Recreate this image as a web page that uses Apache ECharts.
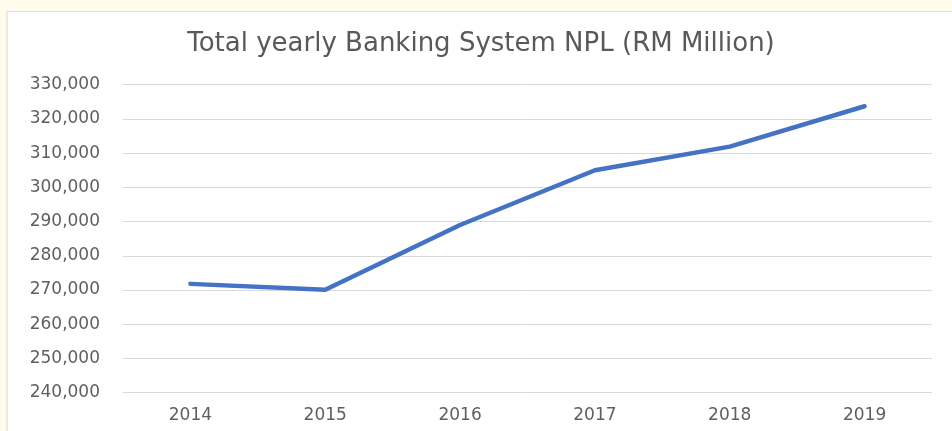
<!DOCTYPE html>
<html>
<head>
<meta charset="utf-8">
<script src="https://cdn.jsdelivr.net/npm/echarts@6/dist/echarts.min.js"></script>
<style>
html,body{margin:0;padding:0;width:952px;height:431px;overflow:hidden;background:#FFFCEE;}
#chart{position:absolute;left:6px;top:11px;width:946px;height:420px;background:#fff;border-left:2px solid #EEEAD2;border-top:1px solid #E6E2C8;}
</style>
</head>
<body>
<div id="chart"></div>
<script>
var categories = ['2014', '2015', '2016', '2017', '2018', '2019'];
var nplValues = [271800, 270100, 289000, 305000, 311900, 323700];
var titleText = 'Total yearly Banking System NPL (RM Million)';

var chart = echarts.init(document.getElementById('chart'));
chart.setOption({
  animation: false,
  title: {
    text: titleText,
    left: 'center',
    top: 14,
    textStyle: {fontFamily: 'DejaVu Sans', fontSize: 26, fontWeight: 'normal', color: '#595959'}
  },
  grid: {left: 115, right: 22, top: 72.7, bottom: 39.3},
  xAxis: {
    type: 'category',
    data: categories,
    boundaryGap: true,
    axisLine: {show: false},
    axisTick: {show: false},
    axisLabel: {fontFamily: 'DejaVu Sans', fontSize: 17, color: '#5f5f5f', margin: 14}
  },
  yAxis: {
    type: 'value',
    min: 240000,
    max: 330000,
    interval: 10000,
    axisLine: {show: false},
    axisTick: {show: false},
    splitLine: {lineStyle: {color: '#D9D9D9', width: 1}},
    axisLabel: {
      fontFamily: 'DejaVu Sans', fontSize: 17, color: '#5f5f5f', margin: 23,
      formatter: function (v) { return v.toLocaleString('en-US'); }
    }
  },
  series: [{
    type: 'line',
    data: nplValues,
    symbol: 'none',
    lineStyle: {color: '#4472C4', width: 4.5, cap: 'round', join: 'round'}
  }]
});
</script>
</body>
</html>
